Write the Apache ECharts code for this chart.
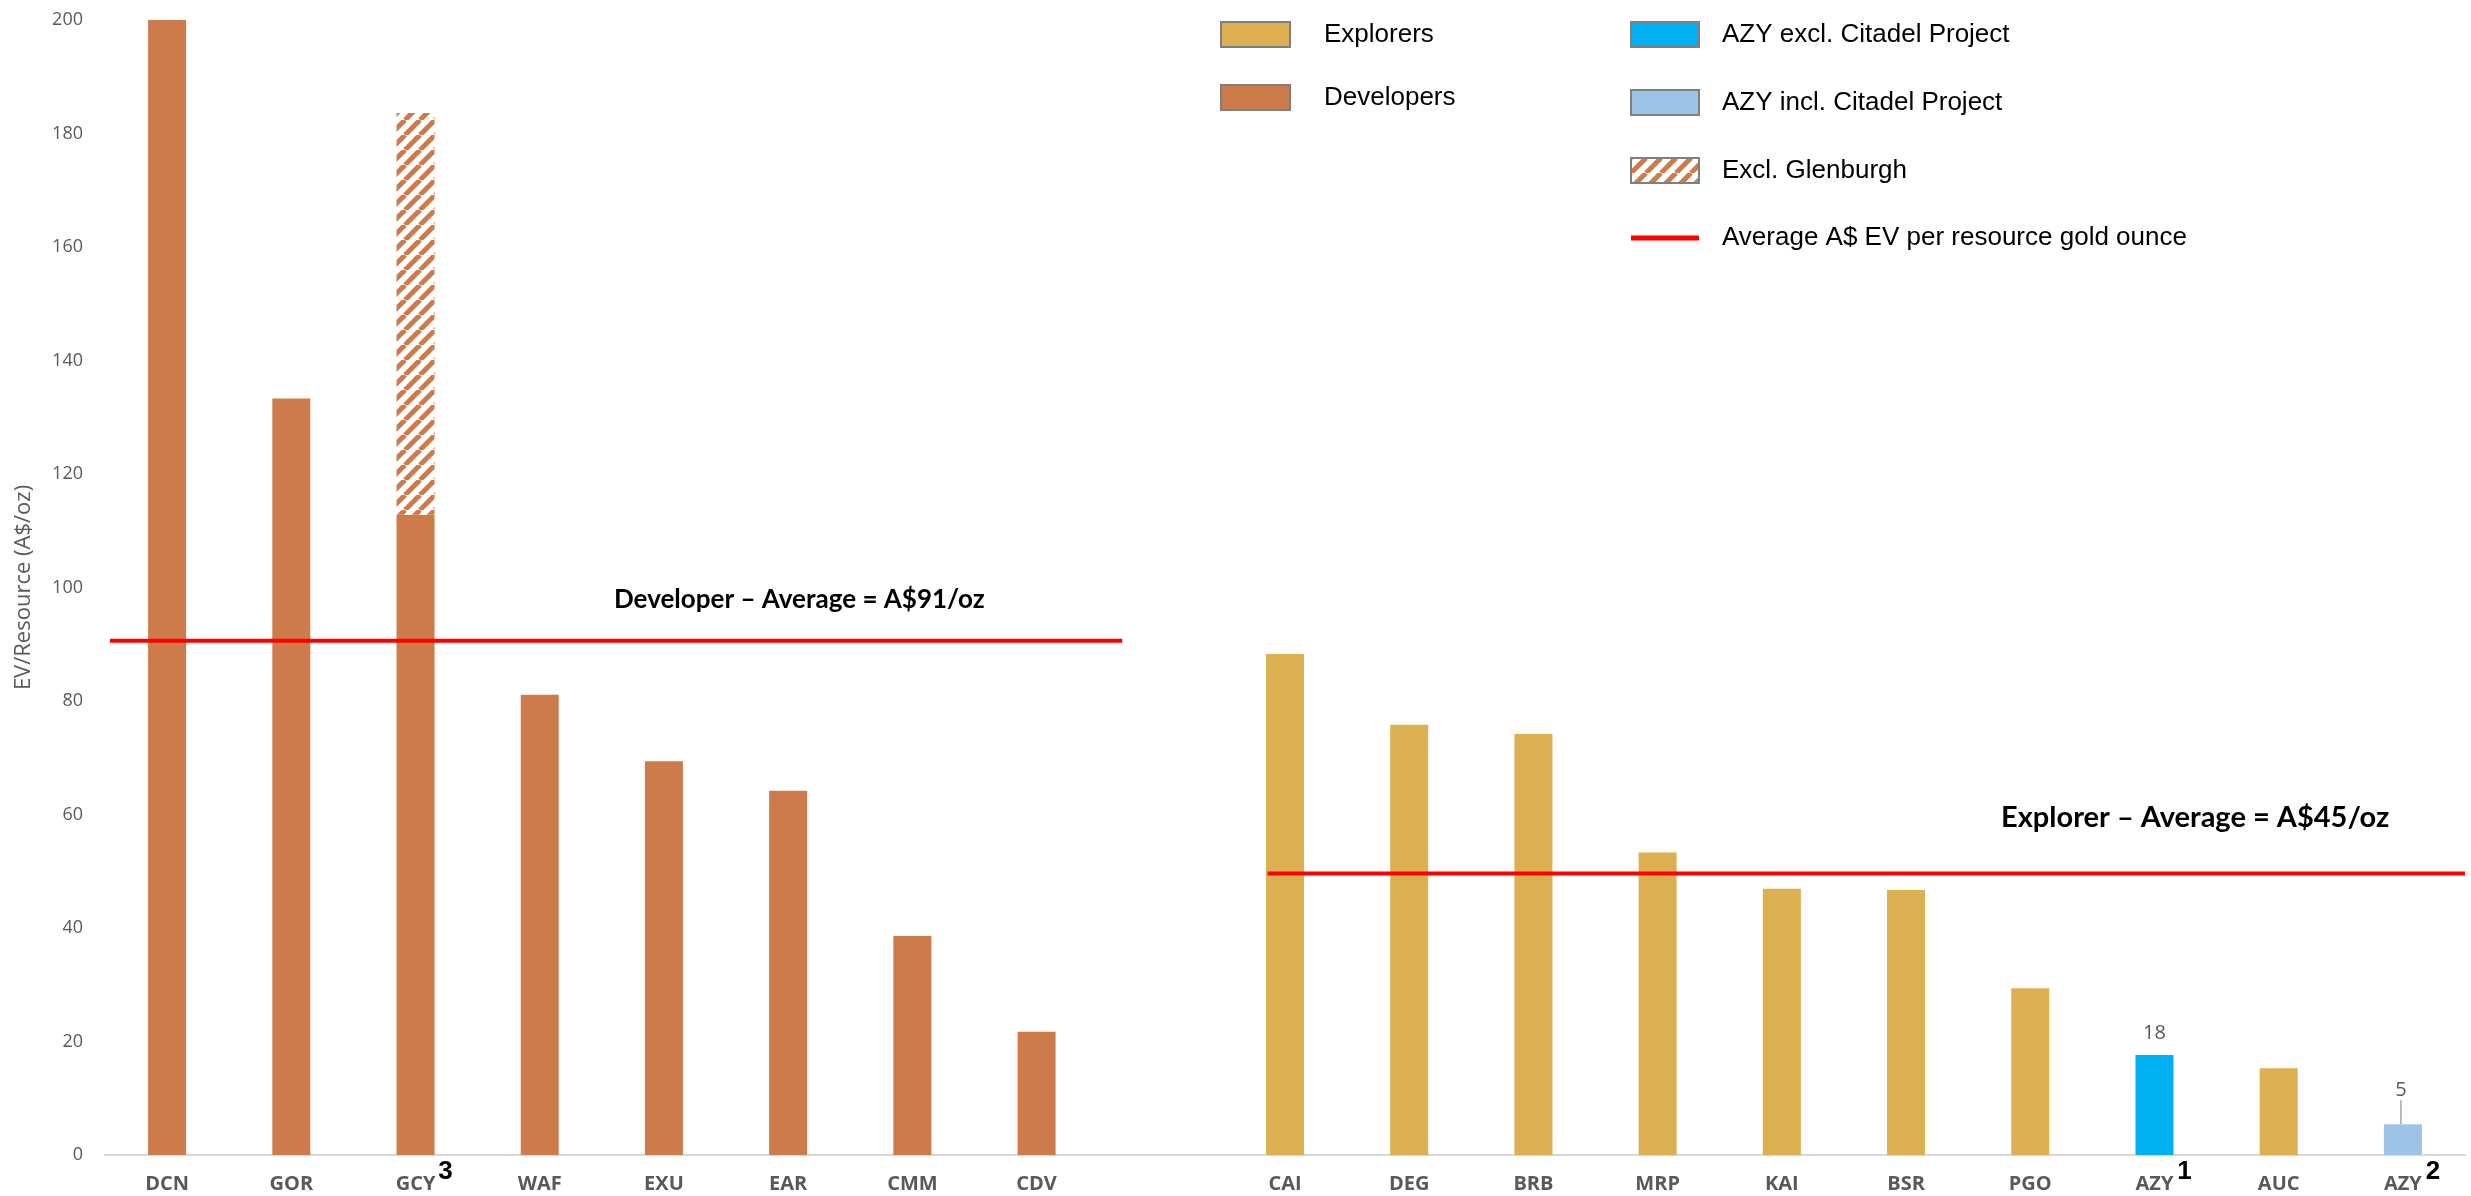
<!DOCTYPE html>
<html>
<head>
<meta charset="utf-8">
<script src="https://cdn.jsdelivr.net/npm/echarts@6/dist/echarts.min.js"></script>
<style>
html,body{margin:0;padding:0;background:#fff;}
#chart{width:2471px;height:1196px;}
</style>
</head>
<body>
<div id="chart"></div>
<script>
// ---- Data ----
const categories = ['DCN','GOR','GCY','WAF','EXU','EAR','CMM','CDV','','CAI','DEG','BRB','MRP','KAI','BSR','PGO','AZY','AUC','AZY'];
const superscripts = ['','','3','','','','','','','','','','','','','','1','','2'];
const developers = [200,133.3,112.8,81.1,69.4,64.2,38.6,21.7,null,null,null,null,null,null,null,null,null,null,null];
const gcyInclGlenburghTotal = [null,null,183.6,null,null,null,null,null,null,null,null,null,null,null,null,null,null,null,null];
const explorers = [null,null,null,null,null,null,null,null,null,88.3,75.8,74.2,53.3,46.9,46.7,29.4,null,15.3,null];
const azyExclCitadel = [null,null,null,null,null,null,null,null,null,null,null,null,null,null,null,null,17.6,null,null];
const azyInclCitadel = [null,null,null,null,null,null,null,null,null,null,null,null,null,null,null,null,null,null,5.4];
const developerAverageLine = [[0.04, 90.6],[8.19, 90.6]];
const explorerAverageLine = [[9.36, 49.6],[19, 49.6]];
const yTicks = {min:0, max:200, interval:20};

// stacked increment for the hatched part
const exclGlenburgh = gcyInclGlenburghTotal.map((v,i)=> v==null ? null : +(v - developers[i]).toFixed(1));

const C_DEV = '#CD7B4A', C_EXP = '#DCAF50', C_AZY1 = '#00B0F0', C_AZY2 = '#9DC3E6', C_RED = '#FF0000';

// hatched pattern
const pc = document.createElement('canvas');
const s = 15; pc.width = s; pc.height = s;
const g = pc.getContext('2d');
g.fillStyle = '#ffffff'; g.fillRect(0,0,s,s);
g.strokeStyle = C_DEV; g.lineWidth = 5;
for (let k=-1;k<=1;k++){ g.beginPath(); g.moveTo(k*s, s); g.lineTo(k*s+s, 0); g.stroke(); }
const hatch = {image: pc, repeat: 'repeat'};

const chart = echarts.init(document.getElementById('chart'));
const sansCal = 'Open Sans, Lato, sans-serif';
const legFont = 'Liberation Sans, Arial, sans-serif';
const barW = 38;
const swatchStyle = {borderColor:'#7F7F7F', borderWidth:2};

const labelFmt = p => Math.round(p.value);

const option = {
  animation: false,
  backgroundColor: '#fff',
  grid: {left: 105, right: 6, top: 20, bottom: 41},
  legend: [
    {
      data: [
        {name:'Explorers', icon:'rect', itemStyle: swatchStyle},
        {name:'Developers', icon:'rect', itemStyle: swatchStyle}
      ],
      orient: 'vertical', left: 1215, top: 16,
      itemWidth: 69, itemHeight: 25, itemGap: 36,
      textStyle: {fontFamily: legFont, fontSize: 26, color:'#000', padding:[0,0,0,29]}
    },
    {
      data: [
        {name:'AZY excl. Citadel Project', icon:'rect', itemStyle: swatchStyle},
        {name:'AZY incl. Citadel Project', icon:'rect', itemStyle: swatchStyle},
        {name:'Excl. Glenburgh', icon:'rect', itemStyle: swatchStyle},
        {name:'Average A$ EV per resource gold ounce', icon:'path://M0,0h13v1h-13z'}
      ],
      orient: 'vertical', left: 1625, top: 16,
      itemWidth: 68, itemHeight: 25, itemGap: 41, symbolKeepAspect: true,
      textStyle: {fontFamily: legFont, fontSize: 26, color:'#000', padding:[0,0,0,18]}
    }
  ],
  xAxis: [
    {
      type: 'category', data: categories,
      axisLine: {lineStyle: {color:'#D9D9D9', width: 2}},
      axisTick: {show: false},
      axisLabel: {
        interval: 0, margin: 19,
        fontFamily: sansCal, fontWeight:'bold', fontSize: 20, color:'#595959'
      }
    },
    {type: 'value', min: 0, max: 19, show: false},
    {
      type: 'category', data: categories, position: 'bottom',
      axisLine: {show: false}, axisTick: {show: false},
      axisLabel: {
        interval: 0, margin: 4,
        formatter: (v, i) => superscripts[i],
        padding: [0,0,0,60],
        fontFamily: legFont, fontWeight:'bold', fontSize: 26, color:'#000'
      }
    }
  ],
  yAxis: {
    type: 'value', min: yTicks.min, max: yTicks.max, interval: yTicks.interval,
    name: 'EV/Resource (A$/oz)', nameLocation: 'middle', nameGap: 70,
    nameTextStyle: {fontFamily: sansCal, fontSize: 22, color:'#595959'},
    axisLine: {show: false}, axisTick: {show: false},
    splitLine: {show: false},
    axisLabel: {fontFamily: sansCal, fontSize: 18, color:'#595959', margin: 22}
  },
  series: [
    {name:'Developers', type:'bar', stack:'all', barWidth: barW, data: developers, itemStyle:{color: C_DEV}},
    {name:'Excl. Glenburgh', type:'bar', stack:'all', barWidth: barW, data: exclGlenburgh, itemStyle:{color: hatch}},
    {name:'Explorers', type:'bar', stack:'all', barWidth: barW, data: explorers, itemStyle:{color: C_EXP}},
    {name:'AZY excl. Citadel Project', type:'bar', stack:'all', barWidth: barW, data: azyExclCitadel, itemStyle:{color: C_AZY1},
      label:{show:true, position:'top', distance: 12, formatter: labelFmt, fontFamily: sansCal, fontSize: 20, color:'#595959'}},
    {name:'AZY incl. Citadel Project', type:'bar', stack:'all', barWidth: barW, data: azyInclCitadel, itemStyle:{color: C_AZY2},
      label:{show:true, position:'top', distance: 4, formatter: labelFmt, fontFamily: sansCal, fontSize: 20, color:'#595959'},
      labelLayout: {dy: -20, dx: -2},
      labelLine: {show: true, length2: 0, lineStyle:{color:'#A6A6A6', width: 1.5}}},
    {name:'Average A$ EV per resource gold ounce', type:'line', xAxisIndex: 1, data: developerAverageLine,
      symbol:'none', lineStyle:{color: C_RED, width: 4}, itemStyle:{color: C_RED}, z: 5},
    {name:'Average A$ EV per resource gold ounce', type:'line', xAxisIndex: 1, data: explorerAverageLine,
      symbol:'none', lineStyle:{color: C_RED, width: 4}, itemStyle:{color: C_RED}, z: 5}
  ],
  graphic: [
    {type:'text', left: 614, top: 587, style:{text:'Developer – Average = A$91/oz', font:'bold 26px Lato, "Open Sans", sans-serif', fill:'#000'}},
    {type:'text', left: 2001, top: 803, style:{text:'Explorer – Average = A$45/oz', font:'bold 29px Lato, "Open Sans", sans-serif', fill:'#000'}}
  ]
};
chart.setOption(option);
</script>
</body>
</html>
